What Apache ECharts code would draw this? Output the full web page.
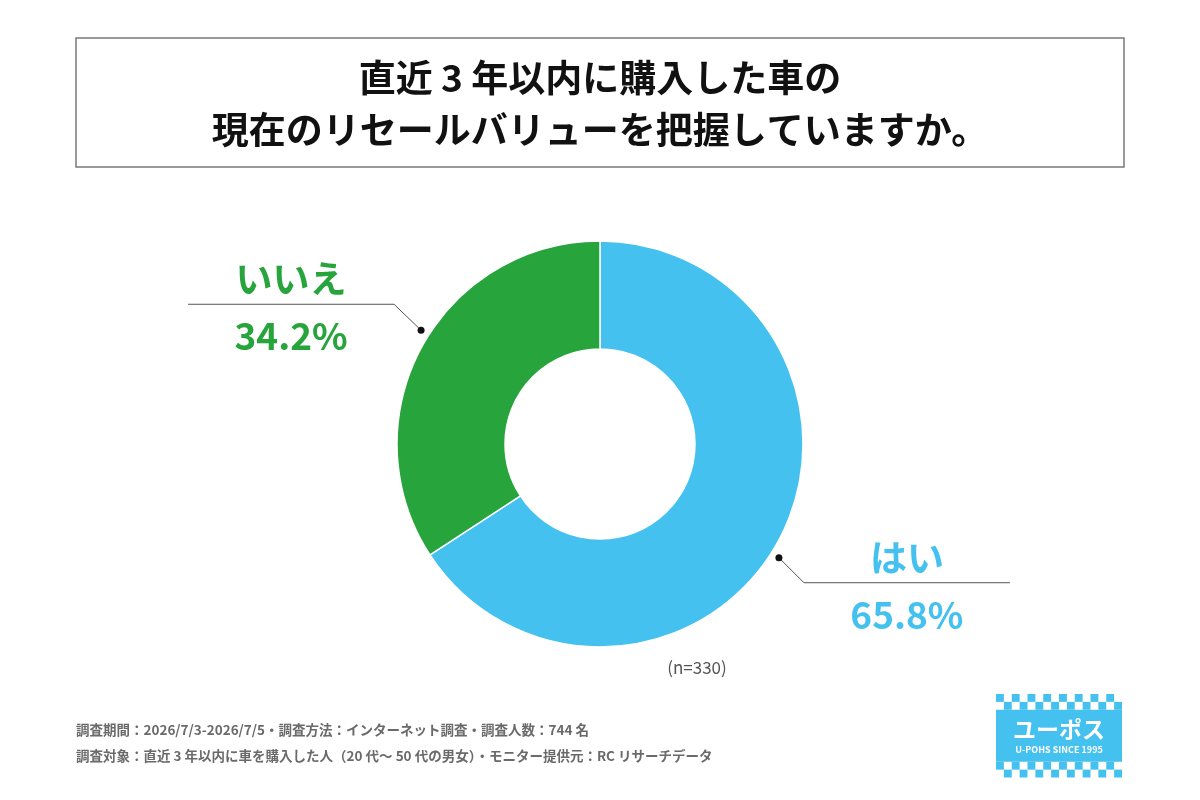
<!DOCTYPE html>
<html><head><meta charset="utf-8">
<script src="https://cdn.jsdelivr.net/npm/echarts@6/dist/echarts.min.js"></script>
<style>html,body{margin:0;padding:0;background:#fff}#c{width:1200px;height:800px}</style>
</head><body><div id="c"></div>
<script>
const titleLines = ['直近 3 年以内に購入した車の', '現在のリセールバリューを把握していますか。'];
const categories = ['はい', 'いいえ'];
const values = [65.8, 34.2];
const colors = ['#45c1f0', '#27a43b'];
const sampleNote = '(n=330)';
const footLines = [
  '調査期間：2026/7/3-2026/7/5・調査方法：インターネット調査・調査人数：744 名',
  '調査対象：直近 3 年以内に車を購入した人（20 代～ 50 代の男女）・モニター提供元：RC リサーチデータ'
];

const FONT = '"Noto Sans CJK JP", "Noto Sans", sans-serif';
const CX = 600, CY = 444, R_IN = 95, R_OUT = 203;
const DOT_R = R_OUT + 9;
const HR_W = 206;

function pt(deg, r) {
  const a = deg * Math.PI / 180;
  return [CX + r * Math.sin(a), CY - r * Math.cos(a)];
}
const total = values.reduce((a, b) => a + b, 0);
const mids = [];
let acc = 0;
values.forEach(v => { mids.push((acc + v / 2) / total * 360); acc += v; });

function geom(i) {
  const ang = mids[i] + 4;
  const p0 = pt(ang, DOT_R);
  const right = Math.sin(ang * Math.PI / 180) > 0;
  const elbow = right ? [p0[0] + 25, p0[1] + 25] : [p0[0] - 27, p0[1] - 26];
  const end = right ? [elbow[0] + HR_W, elbow[1]] : [elbow[0] - HR_W, elbow[1]];
  return { p0, elbow, end, cx: (elbow[0] + end[0]) / 2 };
}

const chart = echarts.init(document.getElementById('c'), null, { renderer: 'canvas' });

const graphics = [
  { type: 'rect', shape: { x: 76, y: 38, width: 1048, height: 129 },
    style: { fill: 'none', stroke: '#7a7a7a', lineWidth: 1.5 } },
  { type: 'text', x: 600, y: 52, style: { text: titleLines.join('\n'), font: 'bold 37px ' + FONT,
    fill: '#111', align: 'center', verticalAlign: 'top', lineHeight: 52 } },
  { type: 'text', x: 697, y: 668, style: { text: sampleNote, font: '17px ' + FONT, fill: '#555',
    align: 'center', verticalAlign: 'middle' } },
  { type: 'text', x: 76, y: 730, style: { text: footLines[0], font: 'bold 13.5px ' + FONT, fill: '#6a6a6a',
    align: 'left', verticalAlign: 'middle' } },
  { type: 'text', x: 76, y: 756, style: { text: footLines[1], font: 'bold 13.5px ' + FONT, fill: '#6a6a6a',
    align: 'left', verticalAlign: 'middle' } }
];
categories.forEach((c, i) => {
  const g = geom(i);
  graphics.push({ type: 'circle', shape: { cx: g.p0[0], cy: g.p0[1], r: 3.5 }, style: { fill: '#111' }, z: 10 });
});

// logo
const LX = 996, LY = 694, LW = 126, CELL = LW / 16;
const logoChildren = [];
logoChildren.push({ type: 'rect', shape: { x: LX, y: LY + 2 * CELL, width: LW, height: 52 }, style: { fill: '#45c1f0' } });
for (let row = 0; row < 4; row++) {
  const y = row < 2 ? LY + row * CELL : LY + 2 * CELL + 52 + (row - 2) * CELL;
  for (let col = 0; col < 16; col++) {
    if ((col + row) % 2 === 0) {
      logoChildren.push({ type: 'rect', shape: { x: LX + col * CELL, y: y, width: CELL, height: CELL }, style: { fill: '#45c1f0' } });
    }
  }
}
logoChildren.push({ type: 'text', x: LX + LW / 2, y: LY + 2 * CELL + 20, style: { text: 'ユーポス', font: 'bold 23px ' + FONT, fill: '#fff', align: 'center', verticalAlign: 'middle' } });
logoChildren.push({ type: 'text', x: LX + LW / 2, y: LY + 2 * CELL + 40, style: { text: 'U-POHS SINCE 1995', font: 'bold 9px ' + FONT, fill: '#fff', align: 'center', verticalAlign: 'middle' } });
graphics.push({ type: 'group', children: logoChildren });

chart.setOption({
  animation: false,
  backgroundColor: '#fff',
  color: colors,
  graphic: graphics,
  series: [{
    type: 'pie',
    center: [CX, CY],
    radius: [R_IN, R_OUT],
    startAngle: 90,
    clockwise: true,
    avoidLabelOverlap: false,
    itemStyle: { borderColor: '#fff', borderWidth: 1.5 },
    data: categories.map((c, i) => ({ name: c, value: values[i] })),
    label: {
      show: true,
      position: 'outside',
      formatter: p => '{n' + p.dataIndex + '|' + p.name + '}\n{v' + p.dataIndex + '|' + p.value.toFixed(1) + '%}',
      rich: {
        n0: { fontFamily: FONT, fontWeight: 'bold', fontSize: 37, color: colors[0], lineHeight: 50, align: 'center' },
        v0: { fontFamily: FONT, fontWeight: 'bold', fontSize: 37, color: colors[0], lineHeight: 64, align: 'center' },
        n1: { fontFamily: FONT, fontWeight: 'bold', fontSize: 37, color: colors[1], lineHeight: 50, align: 'center' },
        v1: { fontFamily: FONT, fontWeight: 'bold', fontSize: 37, color: colors[1], lineHeight: 64, align: 'center' }
      }
    },
    labelLine: { show: true, lineStyle: { color: '#555', width: 1 } },
    labelLayout: function (params) {
      const g = geom(params.dataIndex);
      return {
        x: g.cx, y: g.elbow[1] - 50, align: 'center', verticalAlign: 'top',
        labelLinePoints: [g.p0, g.elbow, g.end]
      };
    }
  }]
});
</script>
</body></html>
